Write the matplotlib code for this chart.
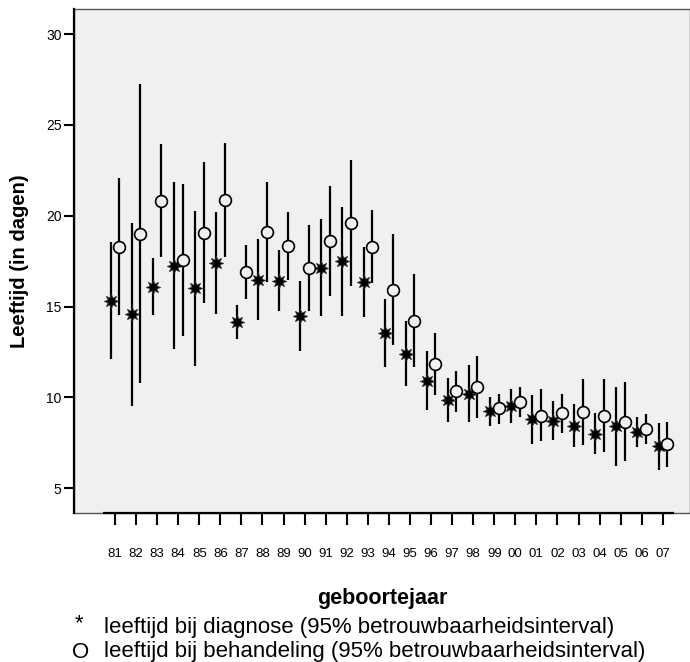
import matplotlib.pyplot as plt
import numpy as np

plt.rcParams['font.family'] = ['Liberation Sans', 'DejaVu Sans']

years = ['81', '82', '83', '84', '85', '86', '87', '88', '89', '90', '91', '92', '93',
         '94', '95', '96', '97', '98', '99', '00', '01', '02', '03', '04', '05', '06', '07']

# leeftijd bij diagnose: mean, lower, upper 95% CI
diag_mean = [15.31, 14.58, 16.10, 17.25, 16.00, 17.42, 14.14, 16.48, 16.43, 14.48, 17.14, 17.51, 16.34,
             13.56, 12.39, 10.92, 9.86, 10.19, 9.25, 9.51, 8.81, 8.70, 8.45, 7.99, 8.43, 8.10, 7.33]
diag_lo = [12.10, 9.55, 14.52, 12.67, 11.73, 14.59, 13.22, 14.26, 14.76, 12.56, 14.47, 14.50, 14.41,
           11.69, 10.61, 9.33, 8.65, 8.67, 8.41, 8.61, 7.44, 7.64, 7.27, 6.89, 6.24, 7.27, 6.02]
diag_hi = [18.54, 19.60, 17.67, 21.84, 20.28, 20.21, 15.09, 18.70, 18.10, 16.41, 19.80, 20.50, 18.26,
           15.43, 14.19, 12.54, 11.07, 11.77, 10.04, 10.45, 10.15, 9.79, 9.62, 9.13, 10.59, 8.94, 8.58]

# leeftijd bij behandeling: mean, lower, upper 95% CI
beh_mean = [18.30, 18.99, 20.83, 17.55, 19.07, 20.87, 16.89, 19.09, 18.33, 17.11, 18.59, 19.62, 18.28,
            15.93, 14.22, 11.86, 10.36, 10.59, 9.40, 9.77, 9.00, 9.13, 9.18, 9.00, 8.65, 8.26, 7.42]
beh_lo = [14.54, 10.81, 17.71, 13.37, 15.20, 17.75, 15.42, 16.35, 16.48, 14.76, 15.58, 16.13, 16.28,
          12.89, 11.69, 10.13, 9.20, 8.89, 8.54, 8.91, 7.59, 8.04, 7.38, 6.98, 6.49, 7.44, 6.16]
beh_hi = [22.06, 27.23, 23.97, 21.76, 22.97, 23.99, 18.37, 21.84, 20.19, 19.47, 21.64, 23.08, 20.30,
          18.98, 16.78, 13.56, 11.46, 12.30, 10.21, 10.59, 10.45, 10.17, 11.02, 11.02, 10.85, 9.07, 8.65]

bg = '#f0f0f0'
fig = plt.figure(figsize=(6.9, 6.62), dpi=100)
ax = fig.add_axes([74 / 690, 1 - 513 / 662, 616 / 690, 504 / 662])
ax.set_facecolor(bg)

x = np.arange(len(years))
off = 0.204

def draw(xpos, mean, lo, hi, **kw):
    mean = np.array(mean)
    err = [mean - np.array(lo), np.array(hi) - mean]
    ax.errorbar(xpos, mean, yerr=err, fmt='none', ecolor='black', elinewidth=1.6,
                capsize=0, zorder=2)
    ax.plot(xpos, mean, linestyle='none', zorder=3, **kw)

draw(x - off, diag_mean, diag_lo, diag_hi, marker=(8, 1, 0), markersize=10.5,
     color='black', markeredgecolor='#333333', markeredgewidth=0.5)
draw(x + off, beh_mean, beh_lo, beh_hi, marker='o', markersize=8.5,
     markerfacecolor=bg, markeredgecolor='black', markeredgewidth=1.2)

ax.set_xlim((74 - 115) / 21.07, (690 - 115) / 21.07)
ax.set_ylim(3.64, 31.38)
ax.set_xticks(x)
ax.set_xticklabels(years)
ax.set_yticks([5, 10, 15, 20, 25, 30])

ax.patch.set_edgecolor('#555555')
ax.patch.set_linewidth(1.0)
for s in ['top', 'right']:
    ax.spines[s].set_visible(False)
ax.spines['left'].set_linewidth(1.6)
ax.spines['bottom'].set_linewidth(1.6)
ax.spines['bottom'].set_bounds(-0.5, len(years) - 0.5)

ax.tick_params(axis='y', length=7, width=1.5, labelsize=10, pad=2)
ax.tick_params(axis='x', length=8.5, width=1.5, labelsize=9.5, pad=17)

ax.set_xlabel('geboortejaar', fontsize=15.5, fontweight='bold', labelpad=20)
ax.set_ylabel('Leeftijd (in dagen)', fontsize=14.5, fontweight='bold', labelpad=12)

fs = 16
fig.text(75 / 690, 1 - 624 / 662, '*', fontsize=fs, va='center', ha='left')
fig.text(104 / 690, 1 - 628 / 662, 'leeftijd bij diagnose (95% betrouwbaarheidsinterval)',
         fontsize=fs, va='center', ha='left')
fig.text(72 / 690, 1 - 652 / 662, 'O', fontsize=fs, va='center', ha='left')
fig.text(104 / 690, 1 - 652 / 662, 'leeftijd bij behandeling (95% betrouwbaarheidsinterval)',
         fontsize=fs, va='center', ha='left')

fig.savefig('out.png', dpi=100, facecolor='white')
